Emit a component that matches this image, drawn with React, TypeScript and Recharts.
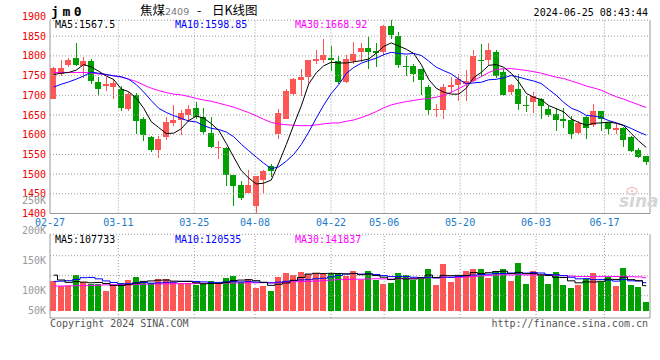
import React from 'react';
import { ComposedChart, Bar, Line, XAxis, YAxis, ReferenceLine } from 'recharts';

// ---------- data ----------
const dates = [
  '02-27','02-28','02-29','03-01','03-04','03-05','03-06','03-07','03-08','03-11',
  '03-12','03-13','03-14','03-15','03-18','03-19','03-20','03-21','03-22','03-25',
  '03-26','03-27','03-28','03-29','04-01','04-02','04-03','04-08','04-09','04-10',
  '04-11','04-12','04-15','04-16','04-17','04-18','04-19','04-22','04-23','04-24',
  '04-25','04-26','04-29','04-30','05-06','05-07','05-08','05-09','05-10','05-13',
  '05-14','05-15','05-16','05-17','05-20','05-21','05-22','05-23','05-24','05-27',
  '05-28','05-29','05-30','05-31','06-03','06-04','06-05','06-06','06-07','06-11',
  '06-12','06-13','06-14','06-17','06-18','06-19','06-20','06-21','06-24','06-25',
];
const opens = [
  1691,1755,1776,1795,1775,1787,1734,1723,1722,1716,
  1666,1701,1641,1595,1562,1595,1629,1637,1651,1668,
  1645,1605,1567,1565,1497,1473,1453,1420,1485,1520,
  1601,1641,1703,1740,1746,1786,1789,1795,1787,1733,
  1787,1810,1819,1812,1810,1877,1851,1774,1774,1767,
  1720,1663,1663,1720,1725,1729,1737,1790,1789,1810,
  1759,1709,1716,1675,1682,1691,1665,1652,1641,1637,
  1605,1646,1624,1659,1631,1611,1618,1594,1560,1545,
];
const highs = [
  1772,1790,1795,1834,1797,1792,1746,1746,1741,1724,
  1708,1707,1644,1597,1596,1646,1676,1663,1675,1683,
  1667,1644,1583,1568,1498,1482,1511,1496,1511,1526,
  1665,1715,1743,1767,1790,1816,1843,1826,1800,1802,
  1836,1834,1847,1832,1879,1891,1860,1800,1780,1768,
  1727,1678,1729,1746,1755,1763,1814,1829,1832,1814,
  1767,1729,1755,1699,1708,1692,1672,1669,1669,1648,
  1635,1648,1678,1659,1632,1629,1620,1596,1567,1547,
];
const lows = [
  1690,1748,1771,1774,1743,1728,1697,1710,1690,1661,
  1661,1601,1583,1555,1541,1587,1622,1598,1633,1640,
  1602,1567,1538,1471,1420,1434,1451,1401,1451,1492,
  1590,1640,1697,1697,1731,1780,1782,1761,1729,1730,
  1780,1785,1766,1772,1800,1843,1769,1750,1733,1701,
  1650,1646,1641,1706,1686,1686,1733,1750,1776,1744,
  1699,1701,1663,1658,1655,1641,1645,1609,1617,1590,
  1601,1590,1620,1609,1601,1601,1568,1556,1540,1524,
];
const closes = [
  1769,1770,1789,1777,1786,1737,1717,1728,1731,1668,
  1703,1636,1598,1562,1590,1631,1638,1656,1665,1645,
  1608,1568,1569,1498,1471,1440,1473,1494,1509,1507,
  1655,1712,1742,1747,1789,1793,1803,1789,1735,1791,
  1806,1819,1810,1807,1877,1853,1776,1771,1753,1738,
  1663,1666,1720,1726,1742,1737,1800,1786,1816,1750,
  1701,1726,1678,1672,1697,1672,1650,1638,1635,1603,
  1629,1616,1661,1639,1615,1616,1586,1558,1544,1530,
];
const ma5 = [
  1753,1756,1758,1764,1778,1772,1761,1749,1740,1716,
  1709,1693,1667,1633,1618,1603,1604,1615,1636,1647,
  1642,1628,1611,1578,1543,1509,1490,1475,1477,1485,
  1528,1575,1625,1673,1729,1757,1775,1784,1782,1782,
  1785,1788,1792,1807,1824,1833,1825,1817,1806,1778,
  1740,1718,1708,1703,1703,1718,1745,1758,1776,1778,
  1771,1756,1734,1705,1695,1689,1674,1666,1658,1640,
  1631,1624,1629,1630,1632,1629,1623,1603,1584,1567.5,
];
const ma10 = [
  1721,1728,1734,1741,1749,1759,1756,1753,1749,1747.2,
  1740.6,1727.2,1708.1,1686.6,1667,1656.4,1648.5,1641.3,1634.7,1632.4,
  1622.9,1616.1,1613.2,1606.8,1594.9,1575.8,1559.3,1543.1,1527.5,1513.7,
  1518.4,1532.8,1550.1,1575,1606.8,1642.1,1675.1,1704.6,1727.2,1755.6,
  1770.7,1781.4,1788.2,1794.2,1803,1809,1806.3,1804.5,1806.3,1801,
  1786.7,1771.4,1762.4,1754.3,1740.8,1729.2,1731.6,1733.1,1739.4,1740.6,
  1744.4,1750.4,1746.2,1740.8,1736.3,1729.8,1714.8,1700,1681.9,1667.2,
  1660,1649,1647.3,1644,1635.8,1630.2,1623.8,1615.8,1606.7,1598.85,
];
const ma30 = [
  1758,1758,1758,1758,1758,1757,1754,1752,1750,1746,
  1741,1735,1726,1718,1712,1707,1703,1701,1697,1692,
  1688,1685,1680,1675,1670,1663,1656,1648,1639,1631.1,
  1627.3,1625.4,1623.8,1622.8,1622.9,1624.8,1627.6,1629.7,1629.8,1633.9,
  1637.3,1643.4,1650.5,1658.7,1668.2,1675.6,1680.2,1684.1,1687,1690.1,
  1691.9,1695.2,1700.2,1707.8,1716.9,1726.8,1737.7,1747.4,1757.6,1765.7,
  1767.3,1767.7,1765.6,1763.1,1760,1756,1750.9,1745.9,1742.5,1736.3,
  1730.4,1723.6,1718.6,1713,1704.3,1696.4,1690.1,1683,1676,1668.92,
];
const volumes = [
  127600,106000,106000,153000,122000,113000,113000,84600,110000,120000,
  132000,146000,122000,120000,136000,136000,122000,117000,117000,110000,
  113000,128000,117000,142000,149000,122000,136000,96000,106000,85000,
  146000,163000,153000,168000,158000,163000,156000,158000,163000,150500,
  170600,132000,170600,132000,114700,120000,163000,153000,132000,139000,
  179000,110000,200000,125000,146000,170600,179000,179000,142000,170600,
  179000,127600,205000,114700,170600,153000,115000,165000,110000,99000,
  110000,136000,162000,125000,143000,106000,183500,110000,103000,37000,
];
const volMa5 = [
  153000,132000,122000,125000,122900,120000,121400,117100,108500,108100,
  111900,118500,126000,128000,131200,132000,127200,126200,125600,120400,
  115800,117000,117000,122000,129800,131600,133200,129000,121800,109000,
  113800,119200,130600,143000,157600,161000,159600,160600,159600,158100,
  159600,154800,157300,151100,144000,133900,140100,136500,136500,141400,
  153200,142600,152000,150600,152000,150300,164100,159900,163300,168200,
  169900,159600,164800,159400,159400,154200,151700,143700,142700,128400,
  119800,124000,123400,126400,135200,134400,143900,133500,129100,107733,
];
const volMa10 = [
  126000,127000,129000,134000,142000,143000,137000,128000,121000,115500,
  116000,120000,121600,118300,119700,122000,122900,126100,126800,125800,
  123900,122100,121600,123800,125100,123700,125100,123000,121900,119400,
  122700,126200,129800,132400,133300,137400,139400,145600,151300,157900,
  160300,157200,159000,155400,151000,146700,147400,146900,143800,142700,
  143500,141300,144300,143600,146700,151800,153400,156000,157000,160100,
  160100,161900,162400,161400,163800,162000,155700,154300,151000,143900,
  137000,137800,133500,134600,131800,127100,134000,128500,127800,120535,
];
const volMa30 = [
  106000,106000,107000,107500,108000,109000,110000,111000,112000,112500,
  113000,113000,114000,115000,115000,115500,116000,116000,116000,117000,
  117500,117500,118000,119000,119000,119500,120000,120000,120500,120200,
  120900,122800,124300,124800,126000,127700,129100,131600,133300,134400,
  135600,135200,136800,137200,136500,135900,137300,138500,139000,140000,
  142200,141600,144300,143800,143700,145300,146700,149500,150700,153600,
  154700,153500,155200,153400,153900,153500,152200,152400,150600,148900,
  146900,147000,146700,146500,147400,147000,147700,146200,145300,141837,
];

const tickDates = ['02-27','03-11','03-25','04-08','04-22','05-06','05-20','06-03','06-17'];
const priceTicks = [1400,1450,1500,1550,1600,1650,1700,1750,1800,1850,1900];
const priceGridValues = [1450,1500,1550,1600,1650,1700,1750,1800,1850];
const volTickLabels = ['250K','200K','150K','100K','50K'];
const volTickValues = [473000,344000,215000,89000,0];
const volGridValues = [236500,150500,64500];

const priceLegend = ['MA5:1567.5','MA10:1598.85','MA30:1668.92'];
const volLegend = ['MA5:107733','MA10:120535','MA30:141837'];

// ---------- styling ----------
const MONO = '"DejaVu Sans Mono", monospace';
const UP = '#ff5555';
const DOWN = '#00a000';
const GRID = '#9a9a9a';
const FRAME = '#999999';
const RED = '#ee0000';
const BLUE = '#1a7ac8';
const C5 = '#000000';
const C10 = '#0000ff';
const C30 = '#ff00ff';

const N = dates.length;
const PRICE_TOP = 1890.5;
const VOL_DOMAIN: [number, number] = [-31400, 497500];
const VOL_TOP = 328500;
const VOL_BOTTOM = -31400;

// Sina spaces its date grid over N-1 steps
const gridIdx = tickDates.map((d) => (dates.indexOf(d) * N) / (N - 1));
const fmtDate = (v: number) => {
  const k = gridIdx.findIndex((g) => Math.abs(g - v) < 1e-6);
  return k >= 0 ? tickDates[k] : '';
};
const fmtVol = (v: number) => {
  const k = volTickValues.indexOf(v);
  return k >= 0 ? volTickLabels[k] : '';
};

const priceData = dates.map((d, i) => ({
  x: i + 0.5,
  date: d,
  open: opens[i],
  high: highs[i],
  low: lows[i],
  close: closes[i],
  ma5: ma5[i],
  ma10: ma10[i],
  ma30: ma30[i],
}));
const volData = dates.map((d, i) => ({
  x: i + 0.5,
  date: d,
  vol: volumes[i],
  up: closes[i] >= opens[i],
  ma5: volMa5[i],
  ma10: volMa10[i],
  ma30: volMa30[i],
}));

const Candle = (props: any) => {
  const { x, y, width, height, payload } = props;
  if (x == null || y == null || !payload) return null;
  const { open, close, high, low } = payload;
  const color = close >= open ? UP : DOWN;
  const top = Math.min(y, y + height);
  const h = Math.abs(height);
  const ratio = h / Math.max(high - low, 1e-6);
  const yo = top + (high - open) * ratio;
  const yc = top + (high - close) * ratio;
  const center = x + width / 2;
  const left = Math.round(center - 3.75);
  const cx = left + 3.5;
  const bTop = Math.min(yo, yc);
  const bH = Math.max(Math.abs(yo - yc), 1);
  return (
    <g>
      <line x1={cx} x2={cx} y1={top} y2={top + h} stroke={color} strokeWidth={1} shapeRendering="crispEdges" />
      <rect x={left} y={bTop} width={6} height={bH} fill={color} shapeRendering="crispEdges" />
    </g>
  );
};

const VolBar = (props: any) => {
  const { x, y, width, height, payload } = props;
  if (x == null || y == null || !payload) return null;
  const center = x + width / 2;
  const left = Math.round(center - 3.75);
  const top = Math.min(y, y + height);
  return (
    <rect x={left} y={top} width={6} height={Math.abs(height)} fill={payload.up ? UP : DOWN} shapeRendering="crispEdges" />
  );
};

const dotted = { stroke: GRID, strokeDasharray: '1 2', strokeWidth: 1 };

export default function App() {
  return (
    <div style={{ position: 'fixed', left: 0, top: 0, width: 660, height: 360, background: '#fff', overflow: 'hidden' }}>
      <div style={{ position: 'absolute', left: 0, top: 0 }}>
        <ComposedChart width={660} height={232} data={priceData} margin={{ top: 16.5, right: 10, bottom: 0, left: 0 }}>
          <XAxis
            dataKey="x"
            type="number"
            domain={[0, N]}
            ticks={gridIdx}
            interval={0}
            allowDecimals
            tickFormatter={fmtDate}
            axisLine={false}
            tickLine={false}
            tickSize={3}
            tickMargin={2}
            height={18.5}
            tick={{ fill: BLUE, fontSize: 10, fontFamily: MONO }}
          />
          <YAxis
            type="number"
            domain={[1400, 1900]}
            ticks={priceTicks}
            interval={0}
            axisLine={false}
            tickLine={false}
            tickSize={2}
            tickMargin={2}
            width={50}
            tick={{ fill: RED, fontSize: 10, fontFamily: MONO }}
          />
          {priceGridValues.map((v) => (
            <ReferenceLine key={'ph' + v} y={v} {...dotted} />
          ))}
          {gridIdx.slice(1).map((t) => (
            <ReferenceLine key={'pv' + t} segment={[{ x: t, y: 1400 }, { x: t, y: PRICE_TOP }]} {...dotted} />
          ))}
          <ReferenceLine y={PRICE_TOP} {...dotted} />
          <ReferenceLine y={1400} stroke={FRAME} strokeWidth={1} />
          <ReferenceLine segment={[{ x: 0, y: 1400 }, { x: 0, y: PRICE_TOP }]} stroke={FRAME} strokeWidth={1} />
          <ReferenceLine segment={[{ x: N, y: 1400 }, { x: N, y: PRICE_TOP }]} stroke={FRAME} strokeWidth={1} />
          <Bar dataKey={(d: any) => [d.low, d.high]} shape={Candle} barSize={6} isAnimationActive={false} />
          <Line type="linear" dataKey="ma30" stroke={C30} strokeWidth={1} dot={false} isAnimationActive={false} />
          <Line type="linear" dataKey="ma10" stroke={C10} strokeWidth={1} dot={false} isAnimationActive={false} />
          <Line type="linear" dataKey="ma5" stroke={C5} strokeWidth={1} dot={false} isAnimationActive={false} />
        </ComposedChart>
      </div>
      <div style={{ position: 'absolute', left: 0, top: 190 }}>
        <ComposedChart width={660} height={140} data={volData} margin={{ top: 5, right: 10, bottom: 12, left: 0 }}>
          <XAxis dataKey="x" type="number" domain={[0, N]} hide />
          <YAxis
            type="number"
            domain={VOL_DOMAIN}
            ticks={volTickValues}
            interval={0}
            tickFormatter={fmtVol}
            axisLine={false}
            tickLine={false}
            tickSize={2}
            tickMargin={2}
            width={50}
            tick={{ fill: '#999999', fontSize: 10, fontFamily: MONO }}
          />
          {volGridValues.map((v) => (
            <ReferenceLine key={'vh' + v} y={v} {...dotted} />
          ))}
          {gridIdx.slice(1).map((t) => (
            <ReferenceLine key={'vv' + t} segment={[{ x: t, y: VOL_BOTTOM }, { x: t, y: VOL_TOP }]} {...dotted} />
          ))}
          <ReferenceLine y={VOL_TOP} {...dotted} />
          <ReferenceLine y={VOL_BOTTOM} stroke={FRAME} strokeWidth={1} />
          <ReferenceLine segment={[{ x: 0, y: VOL_BOTTOM }, { x: 0, y: VOL_TOP }]} stroke={FRAME} strokeWidth={1} />
          <ReferenceLine segment={[{ x: N, y: VOL_BOTTOM }, { x: N, y: VOL_TOP }]} stroke={FRAME} strokeWidth={1} />
          <Bar dataKey="vol" shape={VolBar} barSize={6} isAnimationActive={false} />
          <Line type="step" dataKey="ma30" stroke={C30} strokeWidth={1} dot={false} isAnimationActive={false} />
          <Line type="step" dataKey="ma10" stroke={C10} strokeWidth={1} dot={false} isAnimationActive={false} />
          <Line type="step" dataKey="ma5" stroke={C5} strokeWidth={1} dot={false} isAnimationActive={false} />
        </ComposedChart>
      </div>
      <svg width={660} height={360} style={{ position: 'absolute', left: 0, top: 0, pointerEvents: 'none' }}>
        <text x={51} y={16} fontFamily={MONO} fontSize={13} fontWeight="bold" letterSpacing={3.6} fill="#000">jm0</text>
        <text x={140} y={15} fontFamily='"Noto Sans CJK SC", sans-serif' fontSize={12.5} fill="#000">
          焦煤<tspan fontFamily='"DejaVu Sans", sans-serif' fontSize={9.5} fill="#777">2409</tspan>
          <tspan x={197}>-</tspan>
          <tspan x={212}>日K线图</tspan>
        </text>
        <text x={648} y={16} textAnchor="end" fontFamily={MONO} fontSize={10} fill="#000">2024-06-25 08:43:44</text>
        <text x={55} y={27.5} fontFamily={MONO} fontSize={10} fill={C5}>{priceLegend[0]}</text>
        <text x={175} y={27.5} fontFamily={MONO} fontSize={10} fill={C10}>{priceLegend[1]}</text>
        <text x={295} y={27.5} fontFamily={MONO} fontSize={10} fill={C30}>{priceLegend[2]}</text>
        <text x={55} y={242.5} fontFamily={MONO} fontSize={10} fill={C5}>{volLegend[0]}</text>
        <text x={175} y={242.5} fontFamily={MONO} fontSize={10} fill={C10}>{volLegend[1]}</text>
        <text x={295} y={242.5} fontFamily={MONO} fontSize={10} fill={C30}>{volLegend[2]}</text>
        <text x={50} y={327} fontFamily={MONO} fontSize={10} fill="#555">Copyright 2024 SINA.COM</text>
        <text x={648} y={327} textAnchor="end" fontFamily={MONO} fontSize={10} fill="#555">http://finance.sina.com.cn</text>
        <ellipse cx={632} cy={191} rx={5} ry={3.5} fill="none" stroke="#f0c4c4" strokeWidth={1.5} />
        <circle cx={632} cy={191} r={1.2} fill="#f0c4c4" />
        <text x={619} y={207} fontFamily='"DejaVu Sans", sans-serif' fontSize={17} fontWeight="bold" fontStyle="italic" fill="#d6d6d6">sina</text>
      </svg>
    </div>
  );
}
